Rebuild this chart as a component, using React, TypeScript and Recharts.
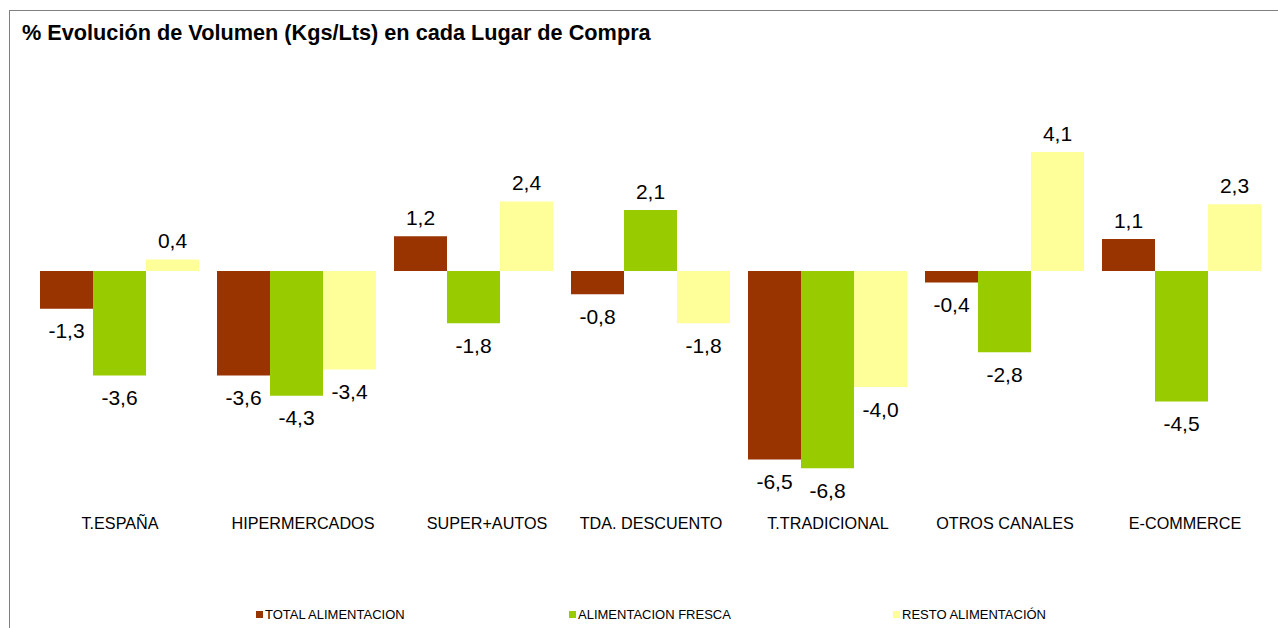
import { BarChart, Bar, XAxis, YAxis, LabelList } from "recharts";

const categories = [
  "T.ESPAÑA",
  "HIPERMERCADOS",
  "SUPER+AUTOS",
  "TDA. DESCUENTO",
  "T.TRADICIONAL",
  "OTROS CANALES",
  "E-COMMERCE",
];
const totalAlimentacion = [-1.3, -3.6, 1.2, -0.8, -6.5, -0.4, 1.1];
const alimentacionFresca = [-3.6, -4.3, -1.8, 2.1, -6.8, -2.8, -4.5];
const restoAlimentacion = [0.4, -3.4, 2.4, -1.8, -4.0, 4.1, 2.3];

const seriesNames = ["TOTAL ALIMENTACION", "ALIMENTACION FRESCA", "RESTO ALIMENTACIÓN"];
const COLORS = ["#993300", "#99CC00", "#FFFF99"];
const FONT = "'Liberation Sans', Arial, sans-serif";

// the source sheet's category labels sit a bit off-centre for some columns
const tickNudge: Record<string, number> = {
  HIPERMERCADOS: 6,
  "SUPER+AUTOS": 13,
  "E-COMMERCE": 3,
};

const data = categories.map((name, i) => ({
  name,
  total: totalAlimentacion[i],
  fresca: alimentacionFresca[i],
  resto: restoAlimentacion[i],
}));

const fmt = (v: number) => v.toFixed(1).replace(".", ",");

const renderLabel = (props: any) => {
  const { x, y, width, height, value } = props;
  const top = Math.min(y, y + height);
  const bottom = Math.max(y, y + height);
  const cx = x + width / 2;
  const ty = value >= 0 ? top - 19 : bottom + 22;
  return (
    <text
      x={cx}
      y={ty}
      textAnchor="middle"
      dominantBaseline="central"
      fontSize={21}
      fontFamily={FONT}
      fill="#000"
    >
      {fmt(value)}
    </text>
  );
};

const renderTick = ({ x, y, payload }: any) => (
  <text
    x={x + (tickNudge[payload.value] || 0)}
    y={y + 34.5}
    textAnchor="middle"
    dominantBaseline="central"
    fontSize={16.2}
    fontFamily={FONT}
    fill="#000"
  >
    {payload.value}
  </text>
);

// legend marker positions
const legendX = [256, 569, 893];

export default function App() {
  return (
    <div style={{ position: "relative", width: 1278, height: 628, overflow: "hidden", background: "#fff" }}>
      <style>{`body{margin:0;overflow:hidden}`}</style>
      <div
        style={{
          position: "absolute",
          left: 9,
          top: 10,
          width: 1300,
          height: 650,
          borderTop: "1px solid #808080",
          borderLeft: "1px solid #808080",
        }}
      />
      <div
        style={{
          position: "absolute",
          left: 22,
          top: 21,
          lineHeight: "24px",
          fontFamily: FONT,
          fontWeight: "bold",
          fontSize: 21.7,
          color: "#000",
          whiteSpace: "nowrap",
        }}
      >
        % Evolución de Volumen (Kgs/Lts) en cada Lugar de Compra
      </div>
      <div style={{ position: "absolute", left: 0, top: 0 }}>
        <BarChart
          width={1278}
          height={628}
          data={data}
          margin={{ top: 126, right: 7.5, bottom: 99.5, left: 31.5 }}
          barCategoryGap={8.5}
          barGap={0}
        >
          <XAxis
            dataKey="name"
            axisLine={false}
            tickLine={false}
            tickSize={0}
            tickMargin={0}
            height={40}
            tick={renderTick}
            interval={0}
          />
          <YAxis hide domain={[-7.5, 5]} allowDataOverflow />
          <Bar dataKey="total" fill={COLORS[0]} isAnimationActive={false}>
            <LabelList dataKey="total" content={renderLabel} />
          </Bar>
          <Bar dataKey="fresca" fill={COLORS[1]} isAnimationActive={false}>
            <LabelList dataKey="fresca" content={renderLabel} />
          </Bar>
          <Bar dataKey="resto" fill={COLORS[2]} isAnimationActive={false}>
            <LabelList dataKey="resto" content={renderLabel} />
          </Bar>
        </BarChart>
      </div>
      {seriesNames.map((name, i) => (
        <div
          key={name}
          style={{
            position: "absolute",
            left: legendX[i],
            top: 605,
            height: 18,
            display: "flex",
            alignItems: "center",
            fontFamily: FONT,
            fontSize: 13,
            color: "#000",
            whiteSpace: "nowrap",
          }}
        >
          <span style={{ display: "inline-block", width: 7, height: 7, background: COLORS[i], marginRight: 2 }} />
          {name}
        </div>
      ))}
    </div>
  );
}
